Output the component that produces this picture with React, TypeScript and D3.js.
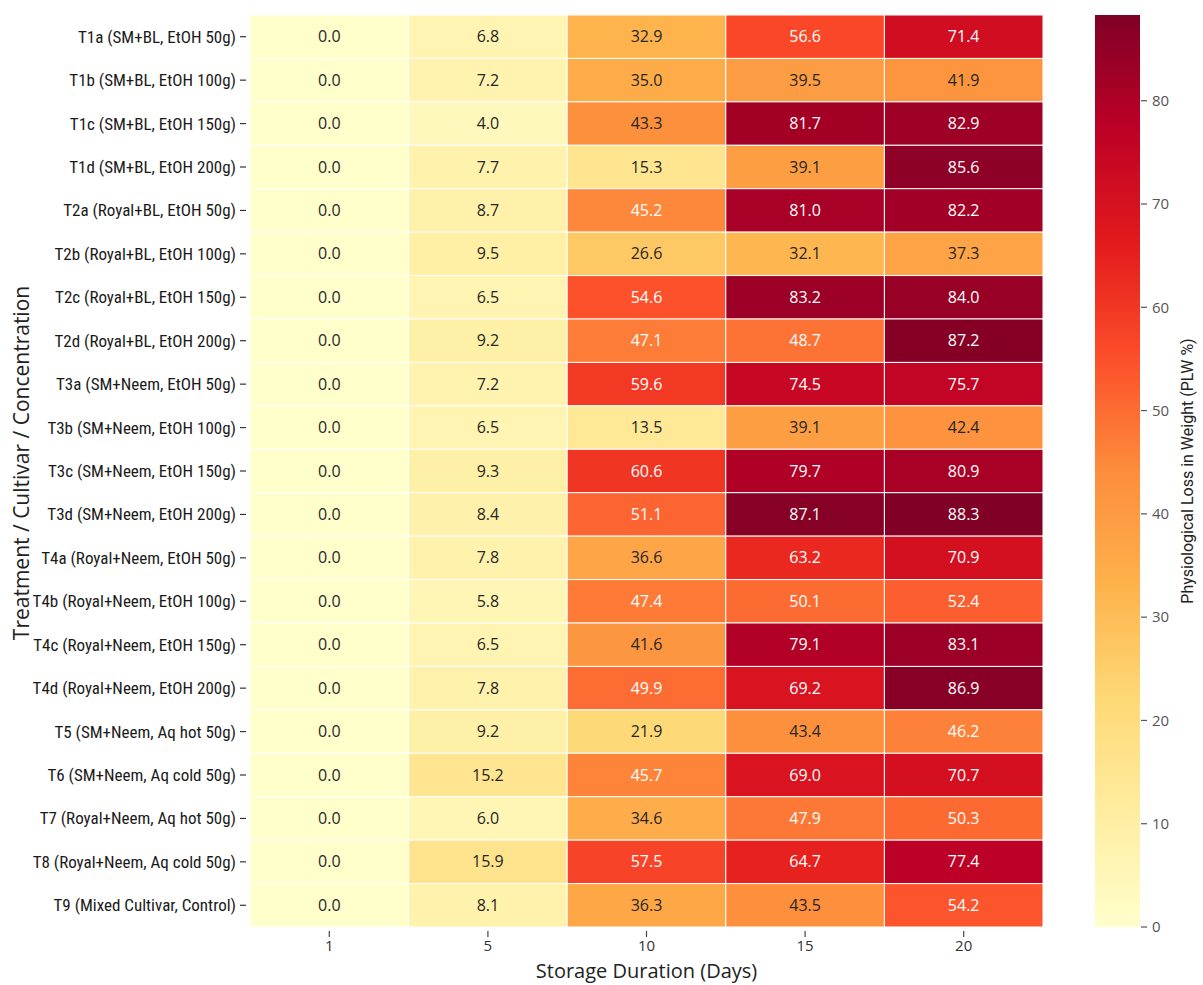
import React from "react";
import * as d3 from "d3";

// Treatments (rows) and storage days (columns)
const treatments = [
  "T1a (SM+BL, EtOH 50g)",
  "T1b (SM+BL, EtOH 100g)",
  "T1c (SM+BL, EtOH 150g)",
  "T1d (SM+BL, EtOH 200g)",
  "T2a (Royal+BL, EtOH 50g)",
  "T2b (Royal+BL, EtOH 100g)",
  "T2c (Royal+BL, EtOH 150g)",
  "T2d (Royal+BL, EtOH 200g)",
  "T3a (SM+Neem, EtOH 50g)",
  "T3b (SM+Neem, EtOH 100g)",
  "T3c (SM+Neem, EtOH 150g)",
  "T3d (SM+Neem, EtOH 200g)",
  "T4a (Royal+Neem, EtOH 50g)",
  "T4b (Royal+Neem, EtOH 100g)",
  "T4c (Royal+Neem, EtOH 150g)",
  "T4d (Royal+Neem, EtOH 200g)",
  "T5 (SM+Neem, Aq hot 50g)",
  "T6 (SM+Neem, Aq cold 50g)",
  "T7 (Royal+Neem, Aq hot 50g)",
  "T8 (Royal+Neem, Aq cold 50g)",
  "T9 (Mixed Cultivar, Control)",
];

const days = ["1", "5", "10", "15", "20"];

// PLW % per storage day, one array per day (ordered as treatments)
const plwDay1 = [0, 0, 0, 0, 0, 0, 0, 0, 0, 0, 0, 0, 0, 0, 0, 0, 0, 0, 0, 0, 0];
const plwDay5 = [6.8, 7.2, 4.0, 7.7, 8.7, 9.5, 6.5, 9.2, 7.2, 6.5, 9.3, 8.4, 7.8, 5.8, 6.5, 7.8, 9.2, 15.2, 6.0, 15.9, 8.1];
const plwDay10 = [32.9, 35.0, 43.3, 15.3, 45.2, 26.6, 54.6, 47.1, 59.6, 13.5, 60.6, 51.1, 36.6, 47.4, 41.6, 49.9, 21.9, 45.7, 34.6, 57.5, 36.3];
const plwDay15 = [56.6, 39.5, 81.7, 39.1, 81.0, 32.1, 83.2, 48.7, 74.5, 39.1, 79.7, 87.1, 63.2, 50.1, 79.1, 69.2, 43.4, 69.0, 47.9, 64.7, 43.5];
const plwDay20 = [71.4, 41.9, 82.9, 85.6, 82.2, 37.3, 84.0, 87.2, 75.7, 42.4, 80.9, 88.3, 70.9, 52.4, 83.1, 86.9, 46.2, 70.7, 50.3, 77.4, 54.2];

const colorTicks = [0, 10, 20, 30, 40, 50, 60, 70, 80];

// YlOrRd anchor colours, linearly interpolated between evenly spaced stops
const ylOrRd = ["#ffffcc", "#ffeda0", "#fed976", "#feb24c", "#fd8d3c", "#fc4e2a", "#e31a1c", "#bd0026", "#800026"];

const seriesByDay = [plwDay1, plwDay5, plwDay10, plwDay15, plwDay20];

const W = 1203;
const H = 985;
const plot = { left: 250, right: 1043, top: 15, bottom: 927 };
const cbar = { left: 1095, right: 1140, top: 15, bottom: 927 };

const labelFont = "'Liberation Sans Narrow', 'Roboto Condensed', 'Arial Narrow', Roboto, sans-serif";
const numFont = "'Open Sans', 'Noto Sans', sans-serif";
const titleFont = "Roboto, 'Liberation Sans', sans-serif";

function luminance(c: string) {
  const rgb = d3.rgb(c);
  const lin = (v: number) => {
    const s = v / 255;
    return s <= 0.03928 ? s / 12.92 : Math.pow((s + 0.055) / 1.055, 2.4);
  };
  return 0.2126 * lin(rgb.r) + 0.7152 * lin(rgb.g) + 0.0722 * lin(rgb.b);
}

export default function App() {
  const cells = treatments.flatMap((t, i) =>
    days.map((d, j) => ({ t, d, v: seriesByDay[j][i] }))
  );
  const vmax = d3.max(cells, (c) => c.v) as number;

  const x = d3.scaleBand<string>().domain(days).range([plot.left, plot.right]);
  const y = d3.scaleBand<string>().domain(treatments).range([plot.top, plot.bottom]);
  const ramp = d3
    .scaleLinear<string>()
    .domain(ylOrRd.map((_, i) => i / (ylOrRd.length - 1)))
    .range(ylOrRd)
    .interpolate(d3.interpolateRgb)
    .clamp(true);
  const norm = d3.scaleLinear().domain([0, vmax]).range([0, 1]);
  const color = (v: number) => ramp(norm(v));
  const cy = d3.scaleLinear().domain([0, vmax]).range([cbar.bottom, cbar.top]);

  return (
    <svg
      width={W}
      height={H}
      style={{ position: "absolute", left: 0, top: 0, background: "#fff" }}
    >
      <defs>
        <linearGradient id="cbarGrad" x1="0" y1="1" x2="0" y2="0">
          {ylOrRd.map((c, i) => (
            <stop key={c} offset={i / (ylOrRd.length - 1)} stopColor={c} />
          ))}
        </linearGradient>
      </defs>

      {/* heatmap cells */}
      <g>
        {cells.map((c) => (
          <rect
            key={c.t + c.d}
            x={x(c.d)}
            y={y(c.t)}
            width={x.bandwidth()}
            height={y.bandwidth()}
            fill={color(c.v)}
            stroke="#ffffff"
            strokeWidth={1}
          />
        ))}
      </g>

      {/* annotations */}
      <g fontFamily={numFont} fontSize={16} textAnchor="middle">
        {cells.map((c) => (
          <text
            key={"a" + c.t + c.d}
            x={(x(c.d) as number) + x.bandwidth() / 2}
            y={(y(c.t) as number) + y.bandwidth() / 2}
            dy="0.35em"
            fill={luminance(color(c.v)) > 0.408 ? "#262626" : "#ffffff"}
          >
            {c.v.toFixed(1)}
          </text>
        ))}
      </g>

      {/* y axis */}
      <g fontFamily={labelFont} fontSize={17} fill="#1a1a1a">
        {treatments.map((t) => {
          const yc = (y(t) as number) + y.bandwidth() / 2;
          return (
            <g key={"y" + t}>
              <line x1={plot.left - 10} x2={plot.left - 4} y1={yc} y2={yc} stroke="#333" strokeWidth={1.2} />
              <text x={plot.left - 14} y={yc} dy="0.35em" textAnchor="end">
                {t}
              </text>
            </g>
          );
        })}
      </g>

      {/* x axis */}
      <g fontFamily={numFont} fontSize={15} fill="#333">
        {days.map((d) => {
          const xc = (x(d) as number) + x.bandwidth() / 2;
          return (
            <g key={"x" + d}>
              <line x1={xc} x2={xc} y1={plot.bottom + 4} y2={plot.bottom + 10} stroke="#444" strokeWidth={1.2} />
              <text x={xc} y={plot.bottom + 24} textAnchor="middle">
                {d}
              </text>
            </g>
          );
        })}
      </g>

      <text
        x={(plot.left + plot.right) / 2}
        y={978}
        textAnchor="middle"
        fontFamily={numFont}
        fontSize={20}
        fill="#222"
      >
        Storage Duration (Days)
      </text>

      <text
        transform={`translate(29, ${(plot.top + plot.bottom) / 2 - 8}) rotate(-90)`}
        textAnchor="middle"
        fontFamily={numFont}
        fontSize={21}
        fill="#222"
      >
        Treatment / Cultivar / Concentration
      </text>

      {/* colour bar */}
      <rect
        x={cbar.left}
        y={cbar.top}
        width={cbar.right - cbar.left}
        height={cbar.bottom - cbar.top}
        fill="url(#cbarGrad)"
      />
      <g fontFamily={numFont} fontSize={15} fill="#555">
        {colorTicks.map((t) => (
          <g key={"c" + t}>
            <line x1={cbar.right + 1} x2={cbar.right + 7} y1={cy(t)} y2={cy(t)} stroke="#555" strokeWidth={1.2} />
            <text x={cbar.right + 12} y={cy(t)} dy="0.35em">
              {t}
            </text>
          </g>
        ))}
      </g>
      <text
        transform={`translate(1193, ${(cbar.top + cbar.bottom) / 2}) rotate(-90)`}
        textAnchor="middle"
        fontFamily={titleFont}
        fontSize={16}
        fill="#222"
      >
        Physiological Loss in Weight (PLW %)
      </text>
    </svg>
  );
}
